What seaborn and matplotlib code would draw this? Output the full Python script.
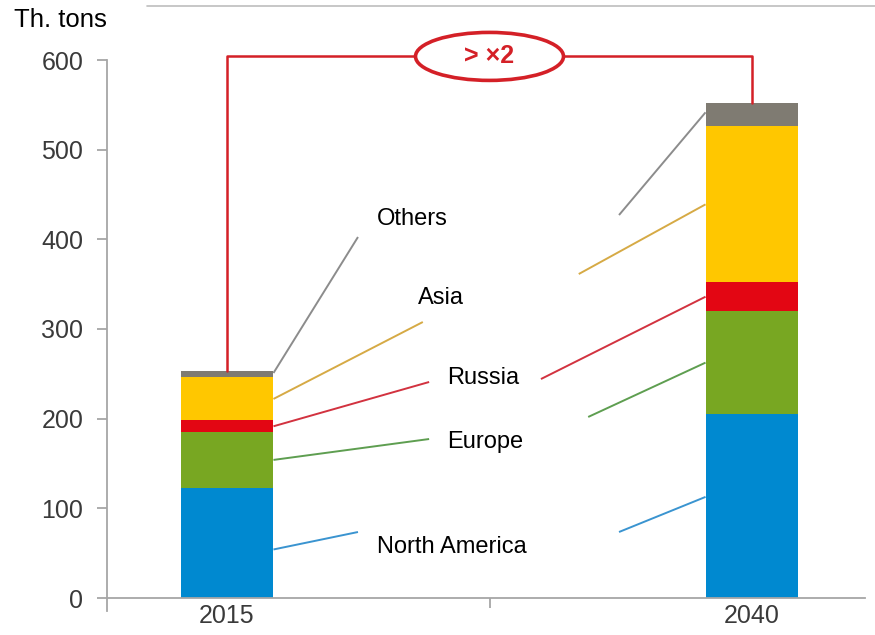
import matplotlib
matplotlib.use("Agg")
import matplotlib.pyplot as plt
from matplotlib import font_manager
from matplotlib.patches import Ellipse
from matplotlib.lines import Line2D
from matplotlib.ticker import FixedLocator
import seaborn as sns
import pandas as pd
import numpy as np

# ---- data (thousand tons) ----
YEARS = ["2015", "2040"]
REGIONS = ["North America", "Europe", "Russia", "Asia", "Others"]
north_america = [123, 205]
europe = [62, 115]
russia = [13, 32]
asia = [48, 174]
others = [7, 26]
SERIES = [north_america, europe, russia, asia, others]

BAR_COLORS = ["#0089D0", "#78A722", "#E30613", "#FFC700", "#7F7B72"]
LEADER_COLORS = ["#3A94D0", "#5E9E50", "#D2323F", "#D6AA45", "#8C8C8C"]
BRACKET_RED = "#D42027"

# label layout: text anchor (left x, baseline y) and the leader ends near each label
LABEL_POS = [(0.286, 50), (0.420, 167), (0.420, 239), (0.363, 328), (0.285, 416)]
LEFT_END = [(0.2495, 73.6), (0.385, 177.3), (0.385, 240.9), (0.373, 307.8), (0.2495, 402.6)]
RIGHT_END = [(0.7467, 73.6), (0.688, 201.9), (0.598, 244.2), (0.670, 361.3), (0.7467, 427.1)]
# where along each segment (0 = bottom, 1 = top) the leaders attach to the bars
ATTACH_2015 = [0.44, 0.5, 0.5, 0.5, 0.7]
ATTACH_2040 = [0.55, 0.5, 0.5, 0.5, 0.6]

BAR_WIDTH = 0.177
BRACKET_Y = 604

sns.set_theme(style="white")
available = {f.name for f in font_manager.fontManager.ttflist}
if "Liberation Sans Narrow" in available:
    tick_family, tick_size = ["Liberation Sans Narrow", "Liberation Sans", "DejaVu Sans"], 19
else:
    tick_family, tick_size = ["Liberation Sans", "DejaVu Sans"], 18
plt.rcParams["font.family"] = ["Liberation Sans", "DejaVu Sans"]

W, H = 875, 635
fig = plt.figure(figsize=(W / 100, H / 100), dpi=100)
ax = fig.add_axes([107 / W, (H - 611) / H, (865 - 107) / W, (611 - 20) / H])

# stacked bars: draw cumulative totals from the top layer down
cum = np.cumsum(np.array(SERIES), axis=0)
for i in reversed(range(len(REGIONS))):
    df = pd.DataFrame({"year": YEARS, "value": cum[i]})
    sns.barplot(data=df, x="year", y="value", color=BAR_COLORS[i], width=BAR_WIDTH,
                saturation=1, linewidth=0, errorbar=None, ax=ax, zorder=2)

px_per_unit = (598 - 60) / 600.0
ax.set_ylim((598 - 611) / px_per_unit, (598 - 20) / px_per_unit)
ax.set_xlim((107 - 227) / 525, (865 - 227) / 525)
ax.set_xlabel("")
ax.set_ylabel("")

# axes styling
for s in ["top", "right"]:
    ax.spines[s].set_visible(False)
axis_col = "#A6A6A6"
ax.spines["left"].set_color(axis_col)
ax.spines["bottom"].set_color(axis_col)
ax.spines["left"].set_linewidth(1.3)
ax.spines["bottom"].set_linewidth(1.3)
ax.spines["bottom"].set_position(("data", 0))
ax.spines["left"].set_bounds((598 - 611) / px_per_unit, 600)
ax.set_yticks(np.arange(0, 601, 100))
ax.tick_params(axis="y", direction="out", length=7, width=1.3, color=axis_col,
               pad=10, labelsize=tick_size, labelcolor="#3A3A3A", left=True)
ax.tick_params(axis="x", which="major", length=0, pad=4, labelsize=tick_size,
               labelcolor="#3A3A3A")
ax.xaxis.set_minor_locator(FixedLocator([0.5]))
ax.tick_params(axis="x", which="minor", direction="out", length=7, width=1.3,
               color=axis_col, bottom=True)
for lab in ax.get_xticklabels() + ax.get_yticklabels():
    lab.set_family(tick_family)
ax.grid(False)

# leader lines and region labels
half = BAR_WIDTH / 2
for i, name in enumerate(REGIONS):
    vals = np.array(SERIES[i])
    lo = cum[i] - vals
    y0 = lo[0] + vals[0] * ATTACH_2015[i]
    y1 = lo[1] + vals[1] * ATTACH_2040[i]
    ax.plot([half, LEFT_END[i][0]], [y0, LEFT_END[i][1]], color=LEADER_COLORS[i],
            lw=1.4, zorder=3, solid_capstyle="butt")
    ax.plot([RIGHT_END[i][0], 1 - half], [RIGHT_END[i][1], y1], color=LEADER_COLORS[i],
            lw=1.4, zorder=3, solid_capstyle="butt")
    ax.text(LABEL_POS[i][0], LABEL_POS[i][1], name, fontsize=17, color="black",
            ha="left", va="baseline", zorder=4)

# growth bracket
totals = cum[-1]
ax.plot([0, 0, 1, 1], [totals[0], BRACKET_Y, BRACKET_Y, totals[1]], color=BRACKET_RED,
        lw=1.8, zorder=3, clip_on=False)
ax.add_patch(Ellipse((0.5, BRACKET_Y), 148 / 525, 48 / px_per_unit, facecolor="white",
                     edgecolor=BRACKET_RED, lw=2.6, zorder=5, clip_on=False))
ax.text(0.5, BRACKET_Y, "> \u00d72", color=BRACKET_RED, fontsize=18, fontweight="bold",
        ha="center", va="center", zorder=6)

# unit label and header rule
fig.text(14 / W, 1 - 20 / H, "Th. tons", fontsize=18.5, color="black", ha="left",
         va="center")
fig.add_artist(Line2D([147 / W, 1.0], [1 - 6 / H, 1 - 6 / H], color="#BDBDBD", lw=1.2))

fig.savefig("out.png", dpi=100)
